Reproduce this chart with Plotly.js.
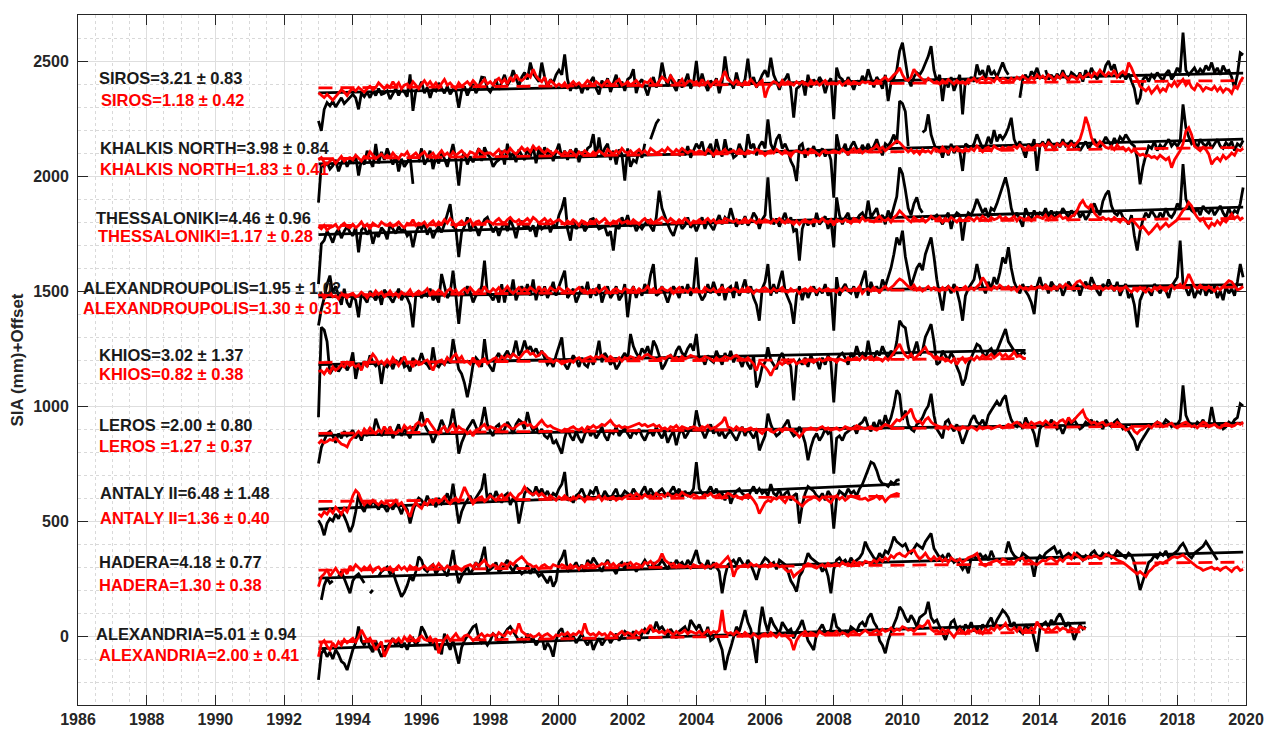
<!DOCTYPE html>
<html><head><meta charset="utf-8">
<script src="https://cdn.plot.ly/plotly-3.0.1.min.js"></script>
<style>html,body{margin:0;padding:0;background:#fff;} #chart{width:1264px;height:729px;}</style>
</head><body><div id="chart"></div>
<script>
// ---------------- DATA ----------------
const START_YEAR = 1993;            // first monthly sample (Jan 1993)
const stationNames = ["SIROS","KHALKIS NORTH","THESSALONIKI","ALEXANDROUPOLIS","KHIOS","LEROS ","ANTALY II","HADERA","ALEXANDRIA"];
const offsets      = [2400, 2100, 1800, 1500, 1200, 900, 600, 300, 0];
const tgTrend  = [3.21, 3.98, 4.46, 1.95, 3.02, 2.00, 6.48, 4.18, 5.01];
const tgErr    = [0.83, 0.84, 0.96, 1.02, 1.37, 0.80, 1.48, 0.77, 0.94];
const altTrend = [1.18, 1.83, 1.17, 1.30, 0.82, 1.27, 1.36, 1.30, 2.00];
const altErr   = [0.42, 0.41, 0.28, 0.31, 0.38, 0.37, 0.40, 0.38, 0.41];
// fitted trend value (mm) at 1993.0, before offset
const tgTrendAt1993  = [-39, -47, -55, -25, -20, -28, -49, -48, -55];
const altTrendAt1993 = [-17, -25, -16, -18, -11, -19, -15, -14, -26];

// monthly SIA (mm), tide gauge (black) and altimetry (red)
const tg_siros = [
-160,-204,-110,-81,-95,-75,-100,-80,-60,-85,-70,-55,
-45,-60,-110,-40,-55,-35,-60,-30,-50,-20,-45,-40,
-30,-65,-40,-20,-50,-25,-35,-55,42,-117,-30,-20,
10,-40,-15,-60,-20,-30,5,-15,-40,-10,-45,-25,
-30,-103,-30,-10,-50,-20,0,-40,-15,30,27,-20,
-35,-10,20,-25,5,40,-5,15,60,25,-10,30,
50,20,93,45,30,10,93,30,-15,20,5,40,
60,40,129,20,-30,10,-20,5,-40,-5,-25,10,
30,-20,-45,15,-10,25,-35,0,40,-15,10,-30,
20,30,64,-40,5,20,-20,-50,0,30,-15,10,
93,30,-10,40,-5,-30,20,-15,10,45,-20,5,
100,-10,45,0,-30,15,-5,25,-40,10,120,30,
10,-20,50,0,-10,20,110,5,30,-15,10,40,
60,30,114,40,10,-25,15,20,45,-20,-146,-20,
-10,15,-50,40,-15,20,-5,30,10,-40,5,25,
-153,71,30,20,-10,30,5,-25,15,-5,35,10,
64,20,-15,30,10,-20,40,-74,5,25,60,143,
179,100,20,-10,30,50,40,60,90,120,165,60,
10,40,-74,20,-15,30,-30,10,40,-132,20,5,
30,10,85,40,60,20,80,40,55,30,60,93,
60,40,null,null,null,-60,20,40,10,55,40,70,
30,null,60,20,40,10,45,25,60,30,15,50,
40,20,50,10,60,30,70,45,20,55,35,80,
100,60,85,40,30,50,20,45,10,-20,-88,-60,
20,35,10,40,25,50,30,15,45,60,20,40,
70,50,223,60,40,55,70,45,65,50,80,60,
93,50,70,40,80,55,60,30,-20,40,136,127];
const alt_siros = [
-38,-50,-59,-45,-60,-70,-55,-40,-25,-35,-50,-30,
-20,-30,-15,-25,-35,-20,-10,-25,-15,5,-10,-20,
-5,-15,10,-10,5,-20,-5,0,-15,10,-5,-20,
0,15,-5,10,-10,5,-15,0,20,-5,5,-10,
-20,5,-10,0,10,-5,15,0,-10,5,20,0,
10,-5,15,25,5,20,0,30,10,40,20,15,
25,40,30,64,35,20,10,30,-5,15,5,-10,
0,-10,5,-15,0,10,-5,5,-10,0,15,5,
-5,10,0,-10,5,15,0,-5,10,20,-5,0,
10,-5,5,15,0,-10,10,5,20,0,-5,10,
30,20,10,35,15,0,5,20,-5,10,15,5,
10,-5,20,0,10,-10,5,15,0,25,56,20,
10,0,15,5,-5,10,0,20,5,-10,5,15,
-59,-20,0,10,5,-10,15,0,10,5,-5,10,
0,10,5,-5,15,0,10,-5,5,15,0,5,
5,0,10,-5,5,15,0,10,5,0,10,5,
10,5,0,15,10,20,30,15,25,40,50,71,
40,20,15,30,64,45,30,20,10,25,15,5,
10,0,15,5,20,10,0,15,5,10,0,20,
15,25,10,20,30,15,25,20,10,30,15,25,
20,10,25,15,30,20,35,25,15,30,20,40,
25,35,20,40,30,15,35,25,45,30,20,35,
30,20,40,25,35,45,30,50,40,60,45,35,
50,40,60,30,45,55,40,93,70,40,20,-10,
-20,-30,-15,-40,-25,-10,-35,-20,-30,0,-10,10,
-10,5,20,-5,10,-15,-25,0,-10,-30,-15,-20,
-25,-10,-30,-15,-35,-20,-25,-40,-10,-20,10,30];

const tg_khalkis = [
-216,-48,-60,-40,-70,-55,-30,-80,-45,-20,-60,-30,
-40,-10,-98,-30,-50,10,-35,-60,39,-45,5,-30,
20,-20,-50,-10,-80,-25,-60,-40,-15,-134,null,-40,
20,-50,-30,10,-70,-20,-45,0,-25,-60,-10,39,
-30,-142,-20,0,-50,-15,-40,-10,20,-35,25,-5,
-20,-60,-40,-30,10,-50,40,-20,0,-40,15,-10,
-30,20,-15,30,-45,20,-20,25,-10,10,-35,5,
40,-20,10,-30,15,-10,20,-40,5,-15,20,30,
82,-20,68,-10,20,40,-30,10,-50,15,-5,-120,
20,-60,-30,-40,10,-20,40,null,60,100,130,148,
null,null,null,null,null,null,-15,20,-10,30,-20,10,
40,20,50,-10,15,40,-20,60,10,-15,60,0,
20,-20,-10,40,10,-20,82,20,40,-10,30,50,
20,146,40,10,60,81,20,40,10,-35,-60,-122,
30,40,-20,20,5,30,-10,0,20,-15,10,-30,
-194,81,20,10,40,-10,30,50,20,0,35,10,
40,10,30,60,20,-10,40,30,50,80,40,226,
215,180,30,null,null,null,null,90,100,168,80,40,
10,20,-20,30,-10,40,0,20,10,-78,40,30,
20,40,81,50,20,30,70,40,100,50,80,60,
80,110,153,60,30,50,10,-20,40,20,60,-78,
30,50,20,60,40,10,45,25,60,30,40,55,
20,40,10,30,50,20,40,60,35,25,45,70,
50,30,65,40,70,55,80,60,40,30,-20,-136,
-60,-10,30,20,50,10,35,20,40,60,30,45,
30,50,211,110,70,40,50,20,60,40,30,50,
20,40,60,30,20,45,30,50,10,40,30,55];
const alt_khalkis = [
-30,-20,-40,-48,-35,-25,-45,-30,-15,-35,-25,-20,
-30,-10,-25,-35,-15,-20,5,-10,-25,-15,-5,-20,
-10,-20,0,-15,-25,-5,-10,5,-20,-10,0,-15,
-5,5,-15,-10,0,-20,-5,10,-10,0,-15,5,
-10,0,10,-5,-15,5,0,-10,15,5,-5,0,
0,-10,5,15,-5,10,0,20,5,-5,10,25,
10,20,5,30,15,25,10,0,15,5,-5,10,
0,-10,5,-5,10,0,-15,5,-5,10,0,-10,
5,-5,10,0,-10,15,5,-5,10,0,20,5,
0,10,-5,5,15,0,10,-5,20,10,0,5,
15,5,23,10,0,15,5,20,10,0,10,5,
0,10,5,-5,15,5,-10,10,0,5,15,0,
5,10,0,15,5,-5,10,5,0,15,10,5,
-10,5,10,0,15,5,-5,10,0,-15,5,10,
5,0,10,-5,15,10,0,-10,5,10,0,5,
10,5,0,15,5,-5,10,20,5,15,0,10,
5,15,20,35,15,25,10,20,30,40,52,45,
30,20,5,15,0,10,-5,15,5,10,0,20,
15,5,25,10,0,20,10,25,15,5,20,10,
20,10,30,15,5,20,25,10,30,20,15,25,
15,25,20,30,20,35,25,15,30,20,25,35,
30,40,25,45,35,20,40,30,45,35,25,40,
30,45,60,100,157,120,67,40,30,50,35,25,
20,30,15,35,20,25,10,20,5,15,0,-10,
-5,-15,-10,-20,-15,-25,-10,-20,-30,-20,-64,-30,
-10,10,40,95,110,80,30,20,10,25,15,-5,
-49,-30,-20,-35,-10,-25,-15,0,-10,15,10,20];

const tg_thess = [
-270,-95,-80,-40,-60,-90,-50,-30,-70,-40,-20,-45,
-60,-20,-132,-35,-20,-55,-30,-95,-50,-65,-25,-40,
-75,-10,-30,-50,-20,-40,-30,-60,-45,-110,-50,-15,
-30,-5,-55,-25,-70,-40,-20,-45,-10,30,78,-20,
-30,-153,-45,-20,20,-40,-10,-25,-60,-20,10,20,
-10,-45,-20,-60,-25,0,-40,10,-20,-70,-15,5,
-30,-10,-40,-15,-65,0,-30,-20,5,-45,-10,-25,
30,60,107,-30,-81,10,-30,-15,0,-40,-20,10,
15,-10,-30,-25,-20,-60,-40,-124,-15,-30,20,-10,
30,-20,0,-40,-15,-30,-10,10,-20,-40,20,136,
60,20,-10,-40,-60,-20,10,-30,-15,20,-25,-5,
-40,-10,20,-30,5,-15,-35,0,30,-10,20,5,
60,15,-20,10,-10,25,-15,5,40,20,-30,10,
30,194,20,-10,15,-20,10,40,-5,20,-40,-30,
-168,-30,10,-15,10,-20,40,-10,5,25,-30,10,
-110,107,30,-10,20,40,-5,15,10,30,40,10,
93,20,40,60,10,30,-10,50,20,60,110,237,
210,140,60,30,80,107,60,40,null,null,10,20,
30,10,-10,20,40,-30,20,40,30,-81,10,40,
30,60,100,70,40,60,20,60,50,80,120,150,
194,140,60,20,40,10,-20,60,30,10,50,20,
40,30,60,20,50,10,40,30,60,40,20,50,
30,50,20,40,10,30,60,80,50,30,90,120,
136,70,40,30,50,20,10,-10,30,-60,-124,-40,
10,40,20,50,30,10,40,20,60,30,20,40,
80,60,252,100,70,50,40,60,30,70,50,40,
60,30,50,70,40,20,60,30,50,40,80,150];
const alt_thess = [
-20,-30,-15,-35,-25,-20,-10,-30,-15,-5,-20,-25,
-10,-25,-15,0,-20,-10,-30,-5,-15,-20,0,-10,
-15,-5,-20,-10,0,-15,-25,-5,-10,10,-15,-5,
-10,0,-20,-5,5,-15,0,-10,10,-5,15,0,
-20,-5,5,-10,0,10,-15,0,5,-10,-5,5,
0,-10,5,15,0,-5,10,20,5,0,10,-5,
5,15,0,20,10,-5,5,15,0,10,-5,5,
10,0,-10,5,-5,10,0,-15,5,0,-10,5,
0,10,-5,5,15,0,-10,5,0,10,-5,0,
5,-5,10,0,-10,5,15,0,10,-5,5,10,
20,10,0,15,5,-5,10,0,15,5,-10,5,
0,10,-5,5,15,0,10,-5,5,0,15,10,
5,0,10,-5,5,15,0,10,5,-5,10,0,
10,5,-5,10,0,15,5,-5,10,0,-10,5,
-10,5,10,0,-5,10,5,0,15,5,-5,10,
-15,10,5,0,10,5,-5,15,10,0,20,5,
10,5,0,15,25,10,5,15,0,20,30,49,
35,20,10,0,20,10,5,15,0,10,25,15,
10,20,0,15,5,20,10,0,15,5,10,20,
15,5,20,10,25,15,5,20,10,15,25,10,
20,10,15,25,5,20,15,10,20,5,15,25,
20,15,30,10,25,15,20,30,15,20,10,25,
30,50,78,93,70,60,78,40,25,15,20,10,
15,5,20,10,0,15,5,-5,10,0,-15,-30,
-20,-35,-52,-40,-25,-10,-30,-15,-5,-20,-10,0,
10,30,50,60,85,70,40,20,5,15,-10,-25,
-5,-15,5,-10,10,0,20,35,15,25,10,20];

const tg_alexp = [
-150,-80,-30,30,67,-10,20,-20,-60,10,-50,-71,
-20,-40,-114,-10,-30,-50,0,-20,-40,-10,-60,5,
-10,-30,-50,-20,10,-40,-15,-30,-60,-158,-20,0,
-30,-5,-20,10,-40,-20,-50,74,20,-30,-10,88,
-20,-143,-20,-10,20,-5,-50,-20,-10,20,132,-10,
-20,-40,-10,-50,30,-50,20,-20,50,-40,-5,20,
-10,30,-20,50,-40,10,-20,20,-30,0,40,-20,
20,50,88,-30,-10,10,-50,-20,20,-10,40,-30,
10,-20,30,-50,-10,20,-30,-10,20,-40,-20,30,
-114,-10,20,-30,10,-20,30,0,70,117,-20,-10,
20,-20,-50,-10,20,0,-30,20,-10,30,-20,10,
146,-10,-40,-20,30,-10,40,0,-20,30,-40,10,
20,-30,40,-20,10,50,-10,20,-30,-60,-129,10,
40,117,-20,30,-10,40,88,0,-30,-60,-143,-20,
20,-40,10,-30,0,20,-20,10,-10,30,-20,0,
-172,60,-20,10,30,0,-10,20,-30,10,40,88,
-20,40,0,20,-10,50,20,60,100,160,233,200,
262,150,80,20,60,100,120,90,160,200,233,150,
50,-20,-85,10,20,-10,30,0,-50,-129,-20,10,
30,50,117,60,20,-10,40,10,60,30,80,146,
120,190,100,40,10,-10,30,0,-20,-50,-100,20,
60,10,30,-10,40,20,0,30,-20,10,40,20,
0,30,-20,20,40,10,60,30,0,-20,30,10,
50,20,0,40,-20,10,30,-30,-10,-60,-158,-40,
-10,20,0,-20,30,10,-10,20,0,-30,20,40,
60,219,30,10,-20,20,-30,0,-10,30,-20,10,
-10,20,-30,0,-40,20,-10,10,-20,40,117,60];
const alt_alexp = [
-20,-10,-30,-15,-5,-25,-20,-35,-10,-20,-30,-15,
-10,-25,-20,-5,-15,-30,-10,-20,0,-15,-5,-25,
-15,0,-20,-10,-25,-5,-15,-10,5,-20,-10,0,
-10,-5,10,-15,0,-10,5,-5,-20,0,10,-5,
5,-15,0,10,-5,15,0,-10,5,-5,20,0,
-5,10,0,15,-5,5,20,0,-10,5,15,0,
10,0,15,5,-5,20,0,10,-5,15,5,0,
15,5,-5,10,0,-10,5,15,0,5,-10,5,
0,10,-5,5,15,0,-10,5,10,0,-5,10,
5,0,15,-5,10,0,5,20,0,10,-5,5,
15,5,0,10,-10,5,15,0,5,-5,10,0,
10,0,-5,15,5,0,10,-5,5,15,0,10,
0,10,5,-5,10,0,15,5,-10,5,0,10,
15,5,-5,10,0,5,15,0,-5,10,0,5,
-10,5,10,0,15,5,-5,10,0,5,10,0,
5,-5,10,0,15,5,0,10,5,20,-10,5,
10,0,15,5,-5,10,20,5,15,25,40,52,
45,30,20,10,25,5,15,0,10,20,5,15,
10,0,15,5,20,10,0,15,5,10,20,5,
15,5,20,30,59,40,15,5,20,10,25,15,
10,20,5,15,0,20,10,15,5,20,10,15,
20,10,25,15,5,20,10,25,15,30,20,10,
25,40,45,30,15,20,10,25,15,20,5,15,
10,20,5,15,0,10,20,5,-5,10,0,15,
5,-5,10,0,15,5,20,10,0,15,25,10,
20,30,15,40,74,50,20,10,25,15,5,20,
10,0,15,5,20,35,45,40,25,5,10,20];

const tg_khios = [
-249,142,130,80,-60,-40,-20,-50,-30,-10,-45,-20,
33,-82,-20,-40,-5,-30,20,-10,-25,-10,-104,-20,
-30,-10,-40,0,-20,10,-30,-20,-50,10,-20,-10,
30,-10,-20,-40,55,-20,-30,-10,-20,10,-15,91,
20,-40,-60,-100,-162,-100,-20,10,-5,-30,91,-10,
-30,-50,10,30,-10,20,40,10,30,84,20,40,
84,40,60,30,50,20,40,10,-20,-5,-30,20,
60,98,-20,-40,-10,20,0,-30,10,-20,-30,10,
-20,20,84,-10,30,10,-20,0,-40,-20,10,30,
0,113,60,30,10,50,30,60,10,84,60,20,
-40,-20,10,20,0,40,60,30,20,50,70,40,
113,0,10,-20,20,0,-10,40,10,-20,30,0,
40,-10,20,0,-30,10,-20,-40,20,-119,-90,-30,
-10,55,0,-20,-40,10,30,-10,0,-30,-176,-20,
0,-20,10,-30,20,-10,0,-40,10,-20,20,-10,
-184,0,20,30,10,-20,30,10,60,20,30,0,
84,20,0,40,20,60,30,10,40,20,80,171,
150,140,60,10,40,80,20,40,100,127,156,80,
-20,-10,40,20,0,30,10,-30,-60,-111,-80,-20,
10,40,69,60,30,10,40,50,20,40,70,100,
135,80,60,40,30,20,35,26];
const alt_khios = [
-50,-46,-60,-40,-55,-30,-45,-35,-20,-30,-10,-25,
-17,-30,-20,-45,-10,-25,5,26,10,-15,-5,-20,
0,-17,10,-10,-25,-5,15,-15,-10,-30,-5,-20,
-17,-5,0,-20,-45,-15,-5,0,-17,10,-5,15,
26,0,15,-10,-5,-17,10,-10,-25,0,5,-15,
-5,5,10,-5,15,5,20,10,26,15,5,20,
35,40,25,30,15,20,35,25,10,5,-10,0,
-5,-17,-10,-5,0,-10,5,10,-5,5,10,15,
5,15,10,20,10,0,15,5,0,10,-5,10,
5,15,10,0,15,5,20,25,15,10,0,5,
10,5,15,20,5,10,0,15,5,10,20,15,
10,0,5,15,10,5,-5,10,0,5,15,10,
5,15,20,10,5,0,10,-5,-17,-46,-10,-20,
-30,-46,-68,-40,-25,-10,-20,-5,-15,-10,0,-17,
-10,-5,-15,0,-5,-10,-2,5,-5,0,10,5,
0,-10,5,0,-5,10,0,5,10,0,15,5,
10,15,0,10,5,-5,10,0,15,30,50,69,
40,20,10,25,5,15,30,45,55,30,25,10,
15,5,10,-5,0,-10,5,-20,0,10,-10,5,
10,0,15,5,20,10,15,25,10,20,30,15,
25,10,20,35,15,20,10,5];

const tg_leros = [
-150,-80,-50,-20,-10,-30,-60,-20,-40,-10,-30,-20,
-5,-40,-20,-50,-10,-30,5,-20,45,10,-30,-10,
-20,10,-40,-10,20,-30,0,-20,-40,10,-10,20,
74,20,-5,-20,-60,-30,0,40,10,-20,20,88,
10,-107,-60,-30,0,20,40,10,-20,30,96,20,
-10,-30,10,20,-20,0,30,10,-20,20,40,30,
0,74,20,-10,10,-20,0,-30,-40,-20,-64,-50,
-80,-107,-40,0,-30,-50,-10,-40,-60,-20,10,-30,
-10,-40,-20,10,-30,-50,-10,-20,10,-30,-10,5,
-20,-40,-10,-20,0,-30,-50,-20,-10,-30,10,-20,
-40,-10,-60,-30,-10,-70,-20,0,-40,-20,10,-10,
81,20,-10,-40,-10,20,-20,0,-30,-10,-40,-20,
-10,-30,-50,-20,10,-30,0,-20,-40,-10,-93,-60,
-30,67,20,-10,-30,-20,0,20,40,-10,-30,-20,
10,-20,-60,-136,-80,-40,-20,-50,-30,0,-20,-10,
-194,-40,-30,-50,-20,-10,0,10,-20,20,30,52,
10,-10,30,0,40,10,60,20,50,100,168,150,
40,80,20,0,-10,20,30,50,80,100,153,60,
0,-20,-40,30,40,10,-10,20,-20,-64,-30,10,
40,60,30,20,40,10,60,80,100,120,100,130,
146,80,40,20,10,30,0,50,20,10,-20,-78,
0,20,30,10,40,20,0,10,-20,10,30,20,
40,20,0,10,30,20,40,10,30,20,0,40,
20,10,30,40,20,0,10,-10,-30,-50,-93,-60,
-40,-20,0,10,20,30,10,20,40,30,10,20,
20,40,190,60,30,20,10,30,20,40,10,20,
96,30,10,20,0,10,30,20,40,50,110,100];
const alt_leros = [
-64,-50,-60,-55,-45,-50,-40,-55,-65,-70,-78,-50,
-35,-20,-10,-25,0,-15,5,-10,-20,-5,-15,10,
-10,5,-15,-20,-5,-10,15,0,10,-5,20,30,
15,20,45,25,5,-10,-20,0,10,-15,5,20,
-10,10,0,-5,-20,-10,-30,-5,0,10,20,0,
10,5,0,-5,10,20,15,5,0,10,20,25,
30,15,20,5,10,25,38,20,10,15,5,0,
-5,-10,0,-5,5,10,0,-5,5,-10,10,5,
15,5,10,20,15,25,38,20,10,15,5,10,
5,10,15,20,25,15,20,10,15,20,10,15,
0,5,-5,10,5,15,0,10,5,0,5,10,
5,0,10,5,15,0,5,10,20,30,52,10,
5,-5,10,0,5,-10,0,5,-5,0,-10,-20,
-5,0,-10,-15,-5,0,-10,5,0,-5,-10,-20,
-35,-20,-5,0,5,0,-5,5,10,0,5,-5,
0,5,-5,0,10,5,0,5,15,10,5,0,
5,10,0,-5,5,10,20,15,10,25,40,35,
50,60,70,88,50,30,35,20,40,50,30,20,
15,10,5,10,0,15,5,0,-5,10,5,0,
10,5,-5,10,0,5,10,0,5,10,15,5,
10,20,15,25,30,20,10,25,15,30,20,25,
30,20,35,25,15,30,20,35,40,25,50,30,
40,55,70,81,50,35,25,30,20,25,30,15,
20,25,15,30,20,10,-5,0,10,-10,-20,-5,
0,10,15,5,20,30,25,10,15,20,25,10,
5,15,25,30,20,10,15,5,20,30,25,10,
15,20,10,5,15,25,20,10,15,25,20,30];

const tg_antalya = [
-97,-120,-162,-110,-90,-100,-70,-90,-60,-80,-110,-148,
-120,-60,19,-40,-60,-20,-40,-10,-30,-50,-20,-40,
-60,-30,-50,-20,-40,-70,-30,-50,-111,-60,-20,0,
-10,-30,10,-20,-5,-40,0,-25,-10,20,-20,62,
-20,-111,-60,-30,-10,10,-20,0,20,40,106,-10,
20,-10,30,0,-20,10,20,-30,0,-20,-111,-40,
20,40,30,10,50,20,40,10,30,0,20,10,
40,60,113,-10,0,-20,10,20,40,10,0,30,
20,50,10,0,30,10,-10,20,40,0,10,30,
20,10,40,20,0,30,50,10,40,20,10,30,
40,20,10,30,50,20,40,0,30,10,20,40,
156,40,20,10,30,50,20,40,10,20,-10,30,
-25,10,30,40,20,10,0,30,50,20,40,20,
30,10,60,20,10,40,0,20,30,-10,10,20,
-111,-30,20,50,40,30,10,0,20,-10,30,10,
-133,0,30,20,10,40,20,30,10,40,60,91,
120,156,149,120,80,62,60,50,70,60,77,80];
const alt_antalya = [
-68,-80,-60,-70,-50,-65,-40,-55,-70,-45,-60,-30,
10,33,20,-10,-30,-15,-25,-10,-20,-30,-15,-25,
-20,-35,-25,-10,-30,-20,-40,-60,-82,-40,-20,-35,
-45,-20,-30,-10,-25,0,-20,-10,5,-15,-25,-10,
0,-20,10,48,20,-5,-25,-10,0,5,-15,-5,
10,0,-10,5,15,-5,10,20,5,-5,15,25,
48,30,20,15,25,10,20,5,-5,10,0,-10,
5,-5,10,0,-10,5,-5,10,0,-15,5,0,
-5,0,10,-10,5,-5,0,5,-10,0,-5,5,
10,15,5,20,10,0,15,5,10,0,20,10,
15,5,20,10,5,15,10,25,15,10,5,15,
10,0,5,15,10,20,5,10,15,0,10,20,
15,5,10,0,-5,10,15,5,-10,-30,-68,-40,
-20,-10,-15,0,-5,5,-10,-20,0,5,-5,-15,
-25,-35,-20,-10,-5,5,0,-10,5,0,-10,-20,
0,10,-5,5,-10,0,10,5,0,-5,-5,0,
-10,-5,0,10,-5,5,-15,0,10,15,20,15];

const tg_hadera = [
null,-143,-80,-49,-70,-60,null,-40,-20,-50,-80,-114,
-60,-40,-30,-50,-70,null,-114,-100,null,-40,-20,-10,
0,-30,-20,-60,-100,-129,-110,-80,-40,-60,-20,45,
30,-10,-20,0,10,-30,-10,0,-20,-40,10,74,
-10,-71,-40,-20,0,-30,-10,20,0,40,88,-20,
-10,0,20,-20,-10,10,30,0,-20,10,-10,-30,
-20,10,-30,0,-20,-40,-30,-50,-70,-40,-85,-60,
20,40,74,-20,-10,0,20,-10,10,-20,30,10,
40,20,0,-20,10,30,0,-10,-30,10,20,-10,
20,-10,10,-20,0,10,30,10,-10,20,0,10,
30,10,-10,20,0,30,10,20,0,30,10,40,
74,20,10,0,30,-10,20,0,-20,-114,-40,10,
20,30,10,40,20,0,30,10,-20,-56,-10,20,
40,30,10,20,-10,30,20,10,-20,-60,-80,-107,
-40,-20,20,60,40,30,20,10,-20,0,-40,-114,
-10,30,40,20,30,10,40,20,30,40,60,110,
80,60,40,30,60,40,70,60,90,132,110,100,
90,100,70,60,80,100,90,80,110,130,146,80,
60,40,50,30,60,40,20,30,10,-10,10,-27,
40,50,30,60,40,50,30,70,40,null,null,null,
60,110,70,50,40,30,60,50,40,20,-42,30,
50,40,60,70,80,88,60,70,40,50,60,50,
40,60,50,30,50,40,60,70,50,40,60,50,
60,40,50,70,60,50,40,60,50,20,-40,-100,
-60,-20,20,30,50,40,60,50,70,40,50,60,
70,90,103,80,50,40,60,70,80,90,110,90,
70,50,30];
const alt_hadera = [
-85,-42,-30,-10,-40,-20,-5,-25,-35,-10,-30,5,
-10,10,-5,-15,0,-10,5,-20,-5,0,-15,-5,
-10,0,-20,-5,5,-10,0,-15,5,-5,0,-10,
-5,5,-10,0,10,-5,15,0,-10,5,-5,0,
5,-5,-15,0,5,10,0,15,5,20,30,10,
0,10,5,-5,15,10,0,20,10,25,35,45,
30,15,10,0,5,-10,5,10,0,-5,10,5,
0,10,5,-5,10,0,5,-10,5,0,15,5,
10,0,5,15,10,20,5,15,0,10,5,15,
10,20,5,15,10,0,20,15,25,10,20,30,
59,30,20,10,15,0,10,5,0,5,-5,10,
5,0,10,-5,5,0,10,15,5,20,30,45,
20,-42,-10,0,5,10,0,15,5,10,0,5,
10,0,15,5,10,0,5,-10,-20,-15,-42,-30,
-20,-10,5,15,10,0,-5,5,10,0,15,5,
10,15,5,20,10,15,5,25,15,20,10,25,
20,15,30,20,35,25,40,30,50,40,55,60,
50,45,60,70,74,50,35,45,60,40,30,45,
30,40,25,35,20,40,30,25,35,20,30,40,
45,50,59,30,10,5,15,20,25,30,20,35,
30,20,25,15,30,35,40,20,30,25,15,10,
20,30,25,35,40,30,20,35,25,40,45,35,
59,50,40,30,35,45,40,50,45,35,40,55,
50,45,40,30,25,20,10,0,-10,-20,-30,-20,
-30,-42,-20,-10,5,10,20,15,25,30,40,45,
40,45,52,40,30,20,10,0,-5,-15,-10,-5,
0,-10,-5,-15,-5,0,-10,-20,-5,0,-15,-10];

const tg_alexandria = [
-191,-75,-60,-90,-70,-100,-60,-80,-110,-120,-148,-100,
-60,-30,41,-20,-40,-10,-50,-70,-20,-60,-90,-70,
-50,-30,-10,-40,-20,-50,-30,-60,-20,-10,-40,-20,
41,20,-10,-30,-20,-60,-40,-80,10,-30,-60,-20,
-70,-120,-50,-20,0,20,40,48,-10,-30,-20,-40,
-20,10,0,-30,-10,10,30,41,20,0,-20,-10,
-30,10,-20,-10,-40,-20,0,-60,-30,-50,-90,-20,
20,33,-10,10,-20,0,-30,-10,10,-20,-40,-10,
-61,-30,-10,-40,-20,0,-30,-10,10,-20,0,20,
10,-10,20,0,-20,10,30,10,40,20,62,30,
40,20,0,30,10,-10,20,30,40,10,69,50,
30,50,20,0,40,-20,-10,10,-30,-60,-148,-90,
-50,-10,40,20,70,113,60,30,-40,-117,40,127,
60,20,80,50,30,10,60,40,20,30,-10,20,
40,69,20,-20,-40,-61,10,30,50,20,10,30,
98,40,30,10,20,0,40,30,20,50,60,40,
80,98,60,40,-20,-40,-75,-20,20,50,80,127,
110,80,60,90,70,40,80,90,100,149,80,60,
70,40,10,-17,20,60,70,30,40,10,50,30,
60,20,40,10,50,30,60,80,40,70,90,113,
100,80,40,60,30,20,10,50,30,40,-10,-68,
30,50,60,40,70,50,80,98,70,40,60,30,
-17,20,50,30,41];
const alt_alexandria = [
-90,-32,-20,-45,-60,-30,-50,-25,-40,-15,-30,-20,
-10,-25,-5,26,0,-20,-10,-35,-60,-40,-25,-90,
-60,-35,-15,-25,-10,-30,-5,-20,0,-15,-25,-10,
0,-15,-20,-5,-25,-10,-75,-40,-15,0,-20,-5,
10,-10,-15,0,5,-5,-20,-10,0,10,-5,5,
0,10,-5,15,5,0,20,10,25,15,55,20,
10,0,5,-5,0,10,-5,5,10,0,-10,5,
0,10,5,15,0,10,5,20,10,55,15,5,
10,0,15,5,10,-5,15,5,0,10,20,5,
15,10,0,20,10,25,15,30,48,20,25,15,
20,10,25,15,5,20,10,15,25,10,20,15,
10,20,5,15,25,10,20,15,25,113,20,10,
15,5,20,10,0,15,5,-5,10,0,-10,5,
10,0,15,5,-5,10,0,5,-10,-20,-61,-20,
0,10,20,5,15,10,0,20,10,5,15,10,
10,20,5,15,10,0,15,20,10,5,15,25,
15,10,20,25,15,30,20,25,35,20,30,25,
40,35,25,30,20,35,45,40,50,69,30,20,
25,15,30,20,25,10,-5,15,30,20,10,25,
20,30,15,25,10,30,20,35,25,45,30,40,
55,30,25,35,20,40,15,30,20,35,25,62,
40,30,25,35,20,30,40,25,35,30,20,35,
30,25,40,35,30];

const tgSeries  = [tg_siros, tg_khalkis, tg_thess, tg_alexp, tg_khios, tg_leros, tg_antalya, tg_hadera, tg_alexandria];
const altSeries = [alt_siros, alt_khalkis, alt_thess, alt_alexp, alt_khios, alt_leros, alt_antalya, alt_hadera, alt_alexandria];

// ---------------- LABEL PLACEMENT (layout) ----------------
const labelX     = [1986.55, 1986.58, 1986.47, 1986.09, 1986.55, 1986.55, 1986.58, 1986.55, 1986.47];
const labelXRed  = [1986.61, 1986.58, 1986.52, 1986.09, 1986.55, 1986.55, 1986.58, 1986.55, 1986.55];
const labelDyTG  = [26, 22, 19, 15, 20, 16, 21, 21, 9];
const labelDyAlt = [-69, -69, -60, -76, -63, -75, -88, -79, -82];

// ---------------- BUILD ----------------
const RED = "#ff0000", BLACK = "#000000";
const FONT = "Liberation Sans, Arial, sans-serif";
const timeOf = i => START_YEAR + i / 12;
const bTraces = [], bTrend = [], rTraces = [], rTrend = [];
const annotations = [];
const LW = 2.8;

stationNames.forEach((name, k) => {
  const tg = tgSeries[k], alt = altSeries[k], off = offsets[k];
  const xt = tg.map((_, i) => timeOf(i));
  const yt = tg.map(v => v === null ? null : v + off);
  const xa = alt.map((_, i) => timeOf(i));
  const ya = alt.map(v => v === null ? null : v + off);
  const tEnd = timeOf(Math.max(tg.length, alt.length) - 1);
  bTraces.push({x: xt, y: yt, type: "scatter", mode: "lines", line: {color: BLACK, width: LW}, connectgaps: false, hoverinfo: "skip", showlegend: false});
  bTrend.push({x: [START_YEAR, tEnd], y: [off + tgTrendAt1993[k], off + tgTrendAt1993[k] + tgTrend[k] * (tEnd - START_YEAR)],
    type: "scatter", mode: "lines", line: {color: BLACK, width: LW}, hoverinfo: "skip", showlegend: false});
  rTraces.push({x: xa, y: ya, type: "scatter", mode: "lines", line: {color: RED, width: LW}, connectgaps: false, hoverinfo: "skip", showlegend: false});
  rTrend.push({x: [START_YEAR, tEnd], y: [off + altTrendAt1993[k], off + altTrendAt1993[k] + altTrend[k] * (tEnd - START_YEAR)],
    type: "scatter", mode: "lines", line: {color: RED, width: LW, dash: "14px,8px"}, hoverinfo: "skip", showlegend: false});

  const lblFont = c => ({family: FONT, size: 16.5, color: c, weight: 700});
  annotations.push({x: labelX[k], y: off + labelDyTG[k], xref: "x", yref: "y", xanchor: "left", yanchor: "middle",
    text: name + "=" + tgTrend[k].toFixed(2) + " \u00b1 " + tgErr[k].toFixed(2), showarrow: false, font: lblFont("#1a1a1a")});
  annotations.push({x: labelXRed[k], y: off + labelDyAlt[k], xref: "x", yref: "y", xanchor: "left", yanchor: "middle",
    text: name + "=" + altTrend[k].toFixed(2) + " \u00b1 " + altErr[k].toFixed(2), showarrow: false, font: lblFont(RED)});
});

const tickFont = {family: FONT, size: 16, color: "#262626", weight: 700};
const layout = {
  width: 1264, height: 729,
  margin: {l: 78, r: 18, t: 15, b: 24, pad: 0},
  paper_bgcolor: "#ffffff", plot_bgcolor: "#ffffff",
  showlegend: false,
  xaxis: {
    range: [1986, 2020], tick0: 1986, dtick: 2, tickmode: "linear",
    ticks: "inside", ticklen: 10, tickwidth: 1, tickcolor: "#262626",
    showline: true, linecolor: "#262626", linewidth: 1, mirror: "ticks",
    showgrid: true, gridcolor: "#dedede", gridwidth: 1, zeroline: false,
    minor: {dtick: 0.5, showgrid: true, gridcolor: "#d9d9d9", griddash: "dot", gridwidth: 1, ticks: ""},
    tickfont: tickFont, ticklabelstandoff: 0
  },
  yaxis: {
    range: [-300, 2700], tick0: 0, dtick: 500, tickmode: "linear",
    ticks: "inside", ticklen: 10, tickwidth: 1, tickcolor: "#262626",
    showline: true, linecolor: "#262626", linewidth: 1, mirror: "ticks",
    showgrid: true, gridcolor: "#dedede", gridwidth: 1, zeroline: false,
    minor: {dtick: 100, showgrid: true, gridcolor: "#d9d9d9", griddash: "dot", gridwidth: 1, ticks: ""},
    tickfont: tickFont, ticklabelstandoff: 5,
    title: {text: "SIA (mm)+Offset", font: {family: FONT, size: 17, color: "#262626", weight: 700}, standoff: 5}
  },
  annotations: annotations
};

Plotly.newPlot("chart", bTraces.concat(bTrend, rTraces, rTrend), layout, {staticPlot: true, displayModeBar: false});
</script>
</body></html>
